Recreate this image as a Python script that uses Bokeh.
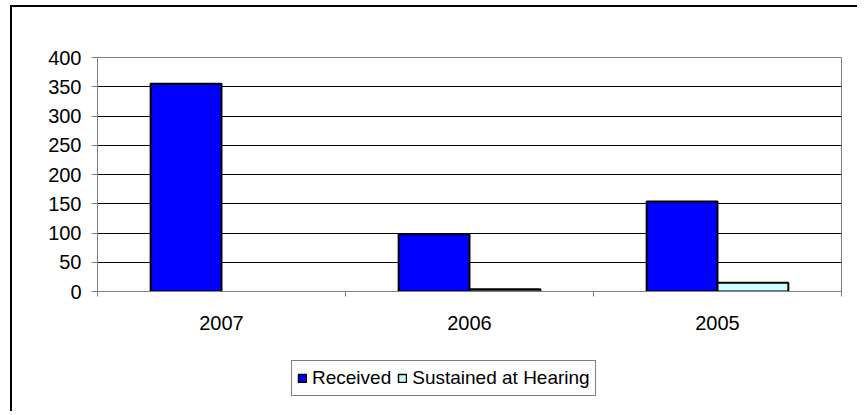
from bokeh.plotting import figure
from bokeh.layouts import column
from bokeh.models import (ColumnDataSource, Range1d, FixedTicker, Legend, LegendItem,
                          CDSView, BooleanFilter)
from bokeh.transform import dodge
from bokeh.embed import file_html
from bokeh.resources import INLINE

years = ["2007", "2006", "2005"]
received = [355, 98, 154]
sustained = [0, 4, 15]
series_names = ["Received", "Sustained at Hearing"]

FONT = "Liberation Sans"
C_REC = "#0000FF"
C_SUS = "#CCFFFF"

xpos = [i + 0.5 for i in range(len(years))]
src = ColumnDataSource(dict(x=xpos, year=years, received=received, sustained=sustained))

p = figure(width=845, height=344, output_backend="svg", toolbar_location=None,
           x_range=Range1d(0, len(years)), y_range=Range1d(0, 400),
           min_border_left=85, min_border_right=16, min_border_top=50, min_border_bottom=60)

p.outline_line_color = "#808080"
p.outline_line_width = 1
p.background_fill_color = "white"
p.border_fill_color = "white"

bw = 1 / 3.5
r1 = p.vbar(x=dodge("x", -bw / 2), top="received", bottom=0, width=bw, source=src,
            fill_color=C_REC, line_color="black", line_width=2)
view = CDSView(filter=BooleanFilter([v > 0 for v in sustained]))
r2 = p.vbar(x=dodge("x", bw / 2), top="sustained", bottom=0, width=bw, source=src, view=view,
            fill_color=C_SUS, line_color="black", line_width=2)

# y axis
p.yaxis.ticker = FixedTicker(ticks=list(range(0, 401, 50)))
p.yaxis.axis_line_color = "#808080"
p.yaxis.major_tick_line_color = "#808080"
p.yaxis.major_tick_out = 6
p.yaxis.major_tick_in = 0
p.yaxis.minor_tick_line_color = None
p.yaxis.major_label_standoff = 10
p.yaxis.major_label_text_font = FONT
p.yaxis.major_label_text_font_size = "20px"
p.yaxis.major_label_text_color = "black"

# x axis
p.xaxis.ticker = FixedTicker(ticks=xpos, minor_ticks=list(range(len(years) + 1)))
p.xaxis.major_label_overrides = {x: y for x, y in zip(xpos, years)}
p.xaxis.axis_line_color = "#808080"
p.xaxis.major_tick_line_color = None
p.xaxis.major_tick_out = 0
p.xaxis.major_tick_in = 0
p.xaxis.minor_tick_line_color = "#808080"
p.xaxis.minor_tick_out = 5
p.xaxis.minor_tick_in = 0
p.xaxis.major_label_standoff = 19
p.xaxis.major_label_text_font = FONT
p.xaxis.major_label_text_font_size = "20px"
p.xaxis.major_label_text_color = "black"

p.xgrid.grid_line_color = None
p.ygrid.grid_line_color = "black"
p.ygrid.grid_line_width = 1

# legend strip (separate figure so the legend is not clipped by the plot area);
# its renderers are hidden, only the legend is shown
q = figure(width=845, height=60, output_backend="svg", toolbar_location=None,
           x_range=Range1d(1000, 1003), y_range=Range1d(1000, 1001),
           min_border_left=0, min_border_right=0, min_border_top=0, min_border_bottom=0)
q.axis.visible = False
q.grid.visible = False
q.outline_line_color = None
q.background_fill_color = "white"
q.border_fill_color = "white"
lr1 = q.vbar(x="x", top="received", bottom=0, width=bw, source=src,
             fill_color=C_REC, line_color="black", line_width=1.5)
lr2 = q.vbar(x="x", top="sustained", bottom=0, width=bw, source=src,
             fill_color=C_SUS, line_color="black", line_width=1.5)
lr1.visible = False
lr2.visible = False

legend = Legend(items=[LegendItem(label=series_names[0], renderers=[lr1]),
                       LegendItem(label=series_names[1], renderers=[lr2])],
                orientation="horizontal", location=(194, 15))
legend.click_policy = "none"
legend.inactive_fill_alpha = 0
legend.border_line_color = "black"
legend.border_line_width = 1
legend.background_fill_color = "white"
legend.background_fill_alpha = 1
legend.padding = 5
legend.margin = 0
legend.spacing = 6
legend.glyph_width = 10
legend.glyph_height = 10
legend.label_standoff = 5
legend.label_height = 24
legend.label_text_font = FONT
legend.label_text_font_size = "19px"
legend.label_text_color = "black"
q.add_layout(legend, "center")

layout = column(p, q, spacing=0)
layout.styles = {"border-left": "2px solid black", "border-top": "2px solid black",
                 "margin-left": "10px", "margin-top": "5px"}

open("out.html", "w").write(file_html(layout, INLINE))
